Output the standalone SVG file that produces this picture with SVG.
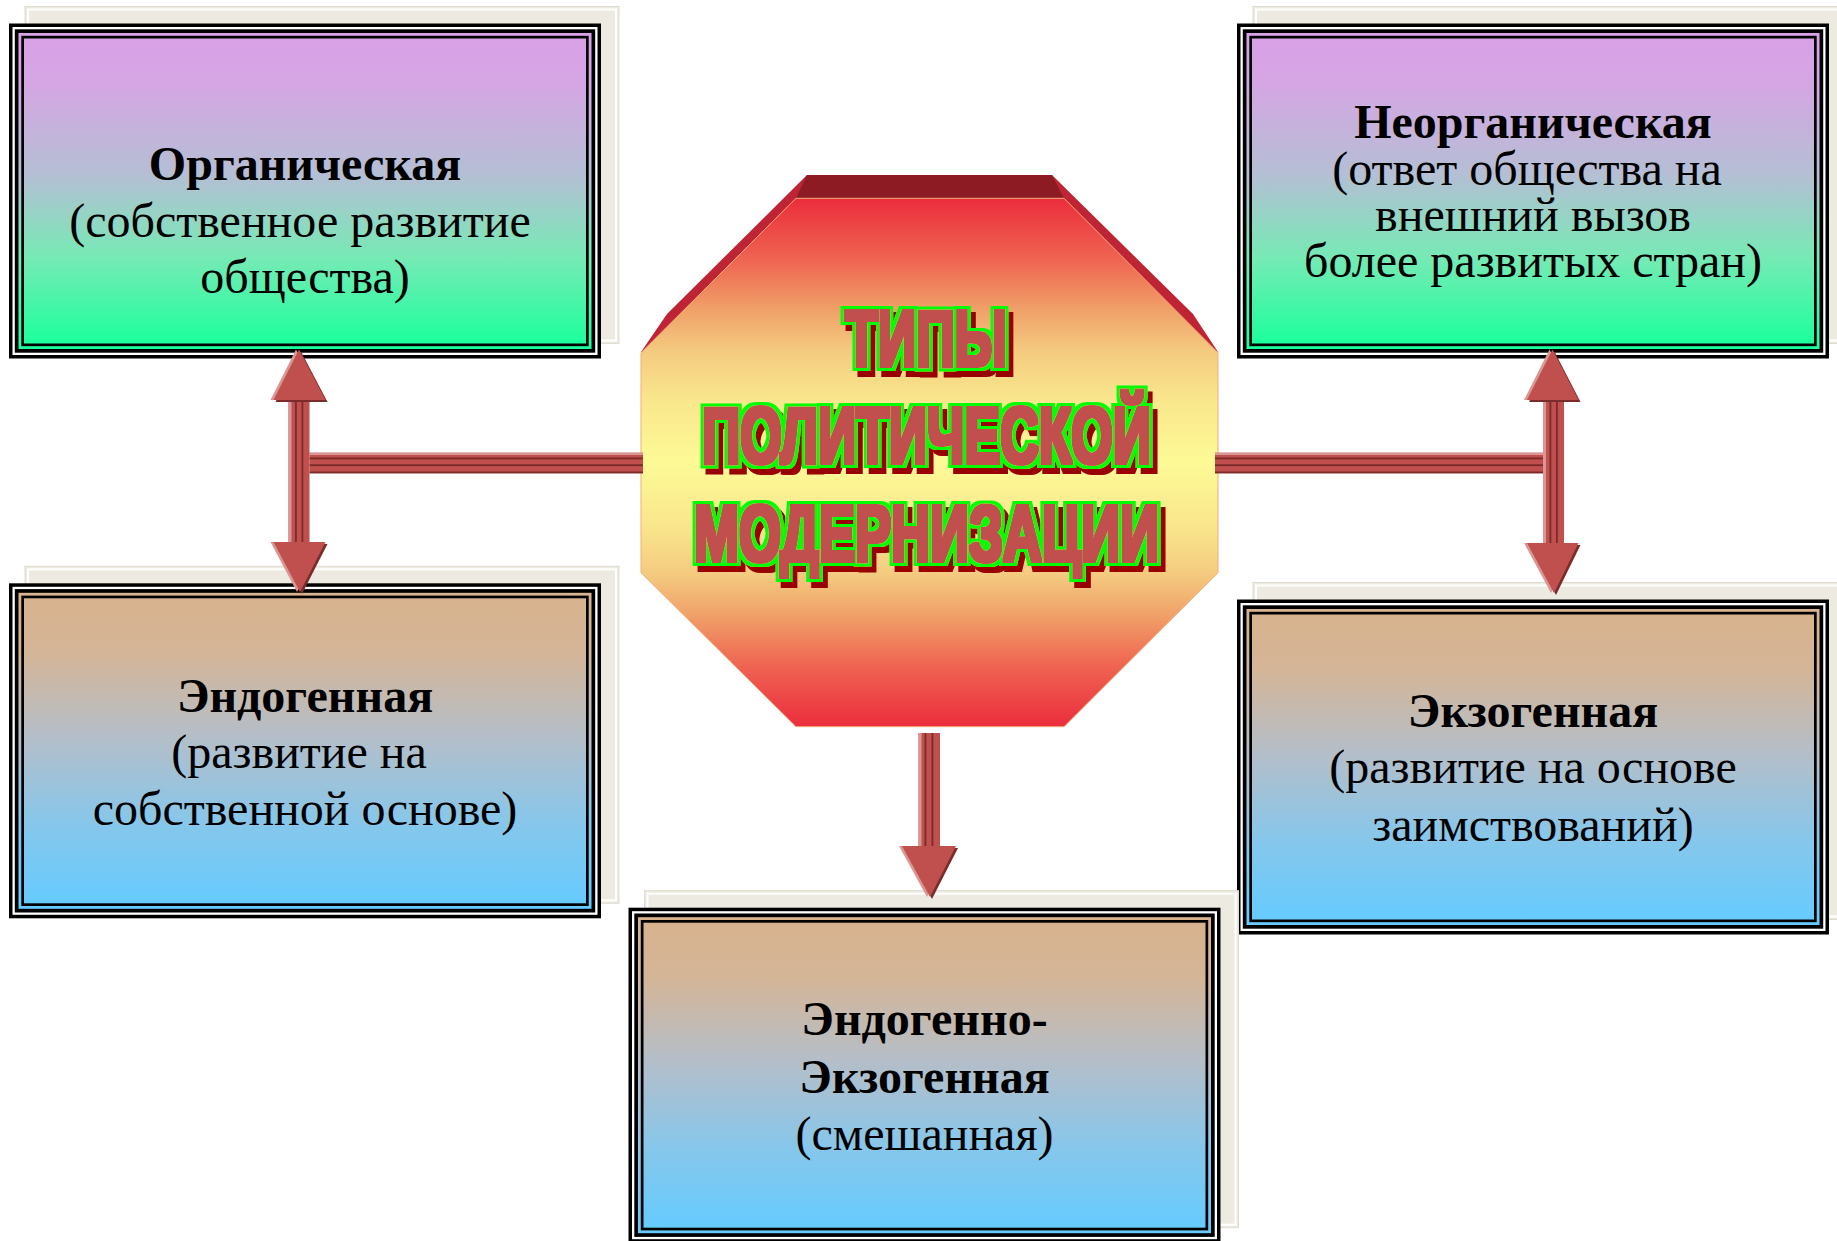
<svg xmlns="http://www.w3.org/2000/svg" width="1837" height="1241" viewBox="0 0 1837 1241">
<defs>
<linearGradient id="gTop" x1="0" y1="0" x2="0" y2="1">
<stop offset="0" stop-color="#D9A1E7"/>
<stop offset="0.15" stop-color="#D5A6E3"/>
<stop offset="0.45" stop-color="#B4BFD4"/>
<stop offset="0.72" stop-color="#76EAB5"/>
<stop offset="1" stop-color="#1CFF9C"/>
</linearGradient>
<linearGradient id="gBot" x1="0" y1="0" x2="0" y2="1">
<stop offset="0" stop-color="#D8B38E"/>
<stop offset="0.18" stop-color="#D4B597"/>
<stop offset="0.45" stop-color="#B5BEC8"/>
<stop offset="0.75" stop-color="#85C7EC"/>
<stop offset="1" stop-color="#66CBFE"/>
</linearGradient>
<linearGradient id="gOct" gradientUnits="userSpaceOnUse" x1="0" y1="198" x2="0" y2="727">
<stop offset="0" stop-color="#EB2D3C"/>
<stop offset="0.12" stop-color="#EF6652"/>
<stop offset="0.21" stop-color="#F0A068"/>
<stop offset="0.29" stop-color="#F4CB80"/>
<stop offset="0.38" stop-color="#F9E68C"/>
<stop offset="0.5" stop-color="#FDFA96"/>
<stop offset="0.62" stop-color="#F9E68C"/>
<stop offset="0.71" stop-color="#F4CB80"/>
<stop offset="0.79" stop-color="#F0A068"/>
<stop offset="0.88" stop-color="#EF6652"/>
<stop offset="1" stop-color="#EB2D3C"/>
</linearGradient>
<filter id="wordart" filterUnits="userSpaceOnUse" x="600" y="270" width="660" height="340">
<feMorphology in="SourceAlpha" operator="dilate" radius="5" result="outer"/>
<feMorphology in="SourceAlpha" operator="dilate" radius="1.6" result="inner"/>
<feFlood flood-color="#990000"/>
<feComposite in2="outer" operator="in"/>
<feOffset dx="5" dy="5.5" result="shadow"/>
<feFlood flood-color="#00FF00"/>
<feComposite in2="outer" operator="in" result="green"/>
<feFlood flood-color="#C0504D"/>
<feComposite in2="inner" operator="in" result="red"/>
<feMerge>
<feMergeNode in="shadow"/>
<feMergeNode in="green"/>
<feMergeNode in="red"/>
</feMerge>
</filter>
<style>
.sh{fill:#EDEBE1;stroke:#DEDCD1;stroke-width:1}
.shl{fill:none;stroke:#FFFFFF;stroke-width:2}
.k{fill:#000}
.w{fill:#FFF}
.t{font-family:"Liberation Serif","Times New Roman",serif;font-size:48px;fill:#000;text-anchor:middle}
.b{font-weight:bold}
.ti{font-family:"Liberation Sans",Arial,sans-serif;font-weight:bold;font-size:79px;text-anchor:middle;fill:#C0504D}
.ar{fill:#C0504D}
.ap{fill:#DA9694}
.ad{fill:#7B2C2A}
</style>
</defs>
<rect width="1837" height="1241" fill="#FFFFFF"/>

<g id="node-organic">
<g transform="translate(9,23.5)">
<rect class="sh" x="16" y="-17" width="594" height="337"/>
<rect class="shl" x="19" y="-14" width="588" height="331"/>
<rect class="k" width="592" height="335"/>
<rect class="w" x="3.5" y="3.5" width="585" height="328"/>
<rect class="k" x="5.8" y="5.8" width="580.4" height="323.4"/>
<rect x="9.5" y="9.5" width="573" height="316" fill="url(#gTop)"/>
<rect class="k" x="12.3" y="12.3" width="567.4" height="310.4"/>
<rect x="15" y="15" width="562" height="305" fill="url(#gTop)"/>
</g>
<text class="t"><tspan class="b" x="305" y="180">Органическая</tspan><tspan x="300" y="236.7">(собственное развитие</tspan><tspan x="305" y="293.3">общества)</tspan></text>
</g>

<g id="node-inorganic">
<g transform="translate(1237,23.5)">
<rect class="sh" x="16" y="-17" width="594" height="337"/>
<rect class="shl" x="19" y="-14" width="588" height="331"/>
<rect class="k" width="592" height="335"/>
<rect class="w" x="3.5" y="3.5" width="585" height="328"/>
<rect class="k" x="5.8" y="5.8" width="580.4" height="323.4"/>
<rect x="9.5" y="9.5" width="573" height="316" fill="url(#gTop)"/>
<rect class="k" x="12.3" y="12.3" width="567.4" height="310.4"/>
<rect x="15" y="15" width="562" height="305" fill="url(#gTop)"/>
</g>
<text class="t"><tspan class="b" x="1533" y="138.3">Неорганическая</tspan><tspan x="1527" y="185">(ответ общества на</tspan><tspan x="1533" y="231">внешний вызов</tspan><tspan x="1533" y="277.3">более развитых стран)</tspan></text>
</g>

<g id="node-endogenous">
<g transform="translate(9,583.3)">
<rect class="sh" x="16" y="-17" width="594" height="337"/>
<rect class="shl" x="19" y="-14" width="588" height="331"/>
<rect class="k" width="592" height="335"/>
<rect class="w" x="3.5" y="3.5" width="585" height="328"/>
<rect class="k" x="5.8" y="5.8" width="580.4" height="323.4"/>
<rect x="9.5" y="9.5" width="573" height="316" fill="url(#gBot)"/>
<rect class="k" x="12.3" y="12.3" width="567.4" height="310.4"/>
<rect x="15" y="15" width="562" height="305" fill="url(#gBot)"/>
</g>
<text class="t"><tspan class="b" x="305" y="711.7">Эндогенная</tspan><tspan x="299" y="768.3">(развитие на</tspan><tspan x="305" y="825">собственной основе)</tspan></text>
</g>

<g id="node-exogenous">
<g transform="translate(1237,599.5)">
<rect class="sh" x="16" y="-17" width="594" height="337"/>
<rect class="shl" x="19" y="-14" width="588" height="331"/>
<rect class="k" width="592" height="335"/>
<rect class="w" x="3.5" y="3.5" width="585" height="328"/>
<rect class="k" x="5.8" y="5.8" width="580.4" height="323.4"/>
<rect x="9.5" y="9.5" width="573" height="316" fill="url(#gBot)"/>
<rect class="k" x="12.3" y="12.3" width="567.4" height="310.4"/>
<rect x="15" y="15" width="562" height="305" fill="url(#gBot)"/>
</g>
<text class="t"><tspan class="b" x="1533" y="726.7">Экзогенная</tspan><tspan x="1533" y="783.3">(развитие на основе</tspan><tspan x="1533" y="840.7">заимствований)</tspan></text>
</g>

<g id="node-mixed">
<g transform="translate(628.5,907.7)">
<rect class="sh" x="16" y="-17" width="594" height="337"/>
<rect class="shl" x="19" y="-14" width="588" height="331"/>
<rect class="k" width="592" height="335"/>
<rect class="w" x="3.5" y="3.5" width="585" height="328"/>
<rect class="k" x="5.8" y="5.8" width="580.4" height="323.4"/>
<rect x="9.5" y="9.5" width="573" height="316" fill="url(#gBot)"/>
<rect class="k" x="12.3" y="12.3" width="567.4" height="310.4"/>
<rect x="15" y="15" width="562" height="305" fill="url(#gBot)"/>
</g>
<text class="t"><tspan class="b" x="924.5" y="1035">Эндогенно-</tspan><tspan class="b" x="924.5" y="1093.3">Экзогенная</tspan><tspan x="924.5" y="1150">(смешанная)</tspan></text>
</g>

<g id="node-center">
<polygon points="807,175 1052,175 1193,314 1218,352 641,352 667,314" fill="#BE2433"/>
<polygon points="807,175 1052,175 1064,198.3 796,198.3" fill="#8C1B24"/>
<polygon points="796,198.3 1064,198.3 1218,352.7 1218,572.7 1064,726.7 796,726.7 641,572.7 641,352.7" fill="url(#gOct)" stroke="#F2AE7A" stroke-width="1"/>
<text class="ti" filter="url(#wordart)"><tspan x="926" y="365.7" textLength="162" lengthAdjust="spacingAndGlyphs">ТИПЫ</tspan><tspan x="926.5" y="463" textLength="449" lengthAdjust="spacingAndGlyphs">ПОЛИТИЧЕСКОЙ</tspan><tspan x="926.5" y="561" textLength="465" lengthAdjust="spacingAndGlyphs">МОДЕРНИЗАЦИИ</tspan></text>
</g>

<g id="connectors">
<rect class="ar" x="309.5" y="452.7" width="333.5" height="20.6"/>
<rect class="ap" x="309.5" y="452.7" width="333.5" height="2.3"/>
<rect class="ad" x="309.5" y="457.5" width="333.5" height="1.8"/>
<rect class="ad" x="309.5" y="464.3" width="333.5" height="1.8"/>
<rect class="ad" x="309.5" y="471.5" width="333.5" height="1.8"/>
<rect class="ar" x="288.5" y="398" width="21" height="146"/>
<rect class="ap" x="288.5" y="398" width="3" height="146"/>
<rect class="ad" x="295" y="398" width="1.8" height="146"/>
<rect class="ad" x="301.5" y="398" width="1.8" height="146"/>
<polygon class="ad" points="275.5,402 301,351.5 327.5,402"/>
<polygon class="ap" points="270.5,400 296,349.5 322.5,400"/>
<polygon class="ar" points="273.5,400 299,349.5 325.5,400"/>
<polygon class="ad" points="275.5,544 327.5,544 302,594"/>
<polygon class="ap" points="270.5,542 322.5,542 297,592"/>
<polygon class="ar" points="273.5,542 325.5,542 300,592"/>
<rect class="ar" x="1215" y="452.7" width="328.5" height="20.6"/>
<rect class="ap" x="1215" y="452.7" width="328.5" height="2.3"/>
<rect class="ad" x="1215" y="457.5" width="328.5" height="1.8"/>
<rect class="ad" x="1215" y="464.3" width="328.5" height="1.8"/>
<rect class="ad" x="1215" y="471.5" width="328.5" height="1.8"/>
<rect class="ar" x="1543" y="398" width="21" height="147"/>
<rect class="ap" x="1543" y="398" width="3" height="147"/>
<rect class="ad" x="1549.5" y="398" width="1.8" height="147"/>
<rect class="ad" x="1556" y="398" width="1.8" height="147"/>
<polygon class="ad" points="1529,402 1554.5,351.5 1580.5,402"/>
<polygon class="ap" points="1524,400 1549.5,349.5 1575.5,400"/>
<polygon class="ar" points="1527,400 1552.5,349.5 1578.5,400"/>
<polygon class="ad" points="1529,545 1580.5,545 1556,595"/>
<polygon class="ap" points="1524,543 1575.5,543 1551,593"/>
<polygon class="ar" points="1527,543 1578.5,543 1554,593"/>
<rect class="ar" x="918.5" y="733" width="21.5" height="115"/>
<rect class="ap" x="918.5" y="733" width="3" height="115"/>
<rect class="ad" x="924.5" y="733" width="1.8" height="115"/>
<rect class="ad" x="931.5" y="733" width="1.8" height="115"/>
<polygon class="ad" points="904,848 958,848 932,899"/>
<polygon class="ap" points="899,846 953,846 927,897"/>
<polygon class="ar" points="902,846 956,846 930,897"/>
</g>
</svg>
